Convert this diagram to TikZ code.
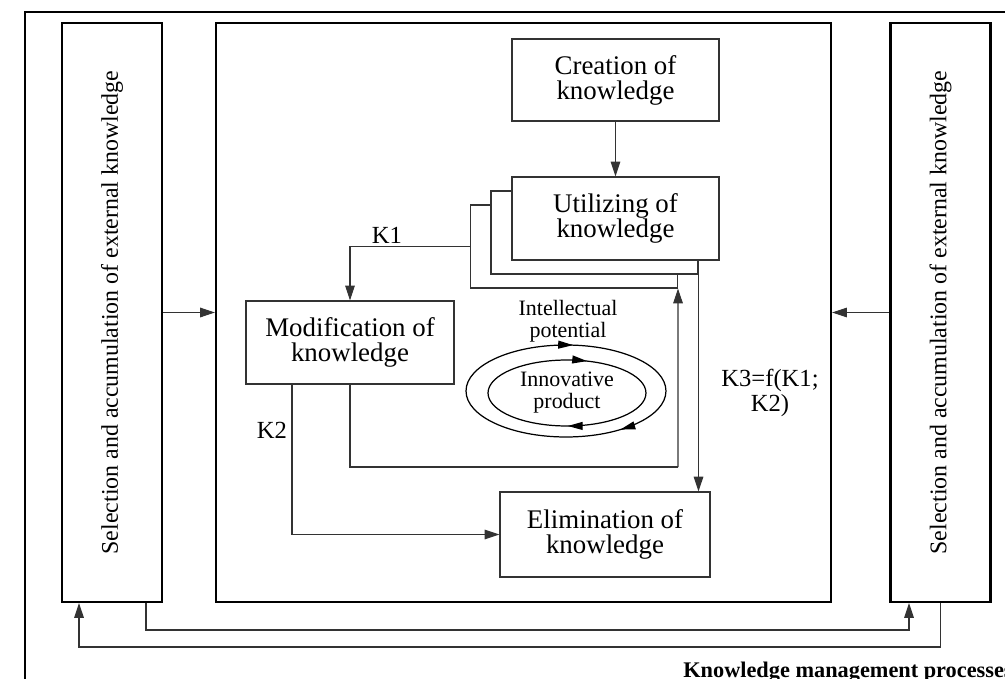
\documentclass[tikz,border=0pt]{standalone}
\usepackage{fontspec}
\setmainfont{Liberation Serif}
\usepackage{graphicx}
\usetikzlibrary{arrows.meta,positioning,calc,decorations.markings}

\begin{document}
\begin{tikzpicture}[
  x=0.02cm, y=-0.02cm,
  outerframe/.style={draw=black,line width=1.2pt},
  sidebox/.style={draw=black,line width=1.2pt,inner sep=0pt,minimum width=2cm,minimum height=11.58cm,font=\fontsize{13.6}{14}\selectfont},
  box/.style={draw=black!80,line width=0.6pt,fill=white,inner sep=0pt,minimum width=4.14cm,minimum height=1.66cm,align=center,font=\fontsize{15.3}{14.2}\selectfont},
  arrow/.style={-{Triangle[length=8.5pt,width=5.5pt]},line width=0.6pt,draw=black!80},
  conn/.style={line width=0.6pt,draw=black!80},
  klabel/.style={font=\fontsize{14}{14}\selectfont,align=center},
  looptext/.style={align=center,font=\fontsize{12.5}{12.5}\selectfont},
  cycle/.style={line width=0.7pt,postaction={decorate}}
]
\useasboundingbox (0,0) rectangle (1005,679);
\clip (0,0) rectangle (1005,679);

% outer frame and the three columns
\draw[outerframe] (25,12) rectangle (1040,720);
\node[sidebox] (lbox) at (112,312.5) {\rotatebox{90}{Selection and accumulation of external knowledge}};
\node[sidebox] (rbox) at (940.5,312.5) {\rotatebox{90}{Selection and accumulation of external knowledge}};
\node[sidebox,minimum width=12.3cm] (mainbox) at (523.5,312.5) {};

% knowledge boxes
\node[box,minimum height=1.64cm] (create) at (615.5,80) {Creation of\\knowledge};
\node[box] (util3) at (574,246.5) {};
\node[box] (util2) at (594.5,232.5) {};
\node[box] (util) at (615.5,218.5) {Utilizing of\\knowledge};
\node[box,minimum width=4.16cm] (modif) at (350,342.5) {Modification of\\knowledge};
\node[box,minimum width=4.2cm,minimum height=1.7cm] (elim) at (605,534.5) {Elimination of\\knowledge};

% intellectual potential cycle
\draw[cycle,decoration={markings,
  mark=at position 0.235 with {\arrowreversed{Triangle[length=8.5pt,width=4.5pt]}},
  mark=at position 0.866 with {\arrowreversed{Triangle[length=8.5pt,width=4.5pt]}}}]
  (566,391) ellipse [x radius=2cm,y radius=0.92cm];
\draw[cycle,decoration={markings,
  mark=at position 0.195 with {\arrowreversed{Triangle[length=8.5pt,width=4.5pt]}},
  mark=at position 0.752 with {\arrowreversed{Triangle[length=8.5pt,width=4.5pt]}}}]
  (567,393) ellipse [x radius=1.58cm,y radius=0.66cm];
\node[looptext] (intel) at (568,321) {Intellectual\\potential};
\node[looptext] (innov) at (567,393) {Innovative\\product};

% flows between the boxes
\coordinate (loopend) at (678,467);
\draw[arrow] (create) -- (util);
\draw[arrow] (util3.west) -| (modif.north);
\draw[arrow] ([xshift=-1.16cm]modif.south) |- (elim.west);
\draw[conn] (modif.south) |- (loopend);
\draw[arrow] (loopend) -- (util3.south east);
\draw[arrow] (util2.south east) -- (util2.south east |- elim.north);
\node[klabel] (k1) at (387,235) {K1};
\node[klabel] (k2) at (272,430) {K2};
\node[klabel] (k3) at (770,393) {K3=f(K1;\\K2)};

% external knowledge
\draw[arrow] (lbox.east) -- (mainbox.west);
\draw[arrow] (rbox.west) -- (mainbox.east);
\draw[arrow] ([xshift=0.68cm]lbox.south) -- ++(0,27) -| ([xshift=-0.63cm]rbox.south);
\draw[arrow] (rbox.south) -- ++(0,44) -| ([xshift=-0.66cm]lbox.south);

\node[anchor=base west,inner sep=0pt,font=\fontsize{12.7}{13}\selectfont\bfseries] (caption) at (683,677) {Knowledge management processes};
\end{tikzpicture}
\end{document}
